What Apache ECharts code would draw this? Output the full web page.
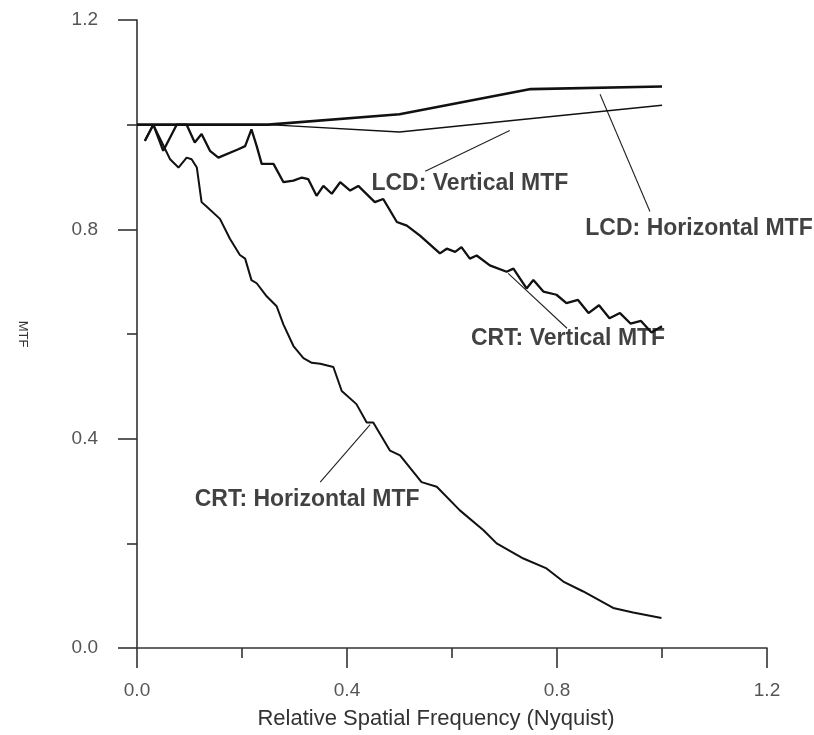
<!DOCTYPE html>
<html>
<head>
<meta charset="utf-8">
<script src="https://cdn.jsdelivr.net/npm/echarts@6/dist/echarts.min.js"></script>
<style>html,body{margin:0;padding:0;background:#fff}#c{width:814px;height:735px}</style>
</head>
<body>
<div id="c"></div>
<script>
// ---- data (x: relative spatial frequency, y: MTF) ----
var lcdHorizontal = [[0,1.0],[0.25,1.0],[0.5,1.02],[0.75,1.068],[1.0,1.073]];
var lcdVertical = [[0,1.0],[0.25,1.0],[0.5,0.986],[1.0,1.037]];
var crtVertical = [
  [0.015,0.969],[0.031,1.0],[0.050,0.950],[0.0756,1.0],[0.0946,1.0],[0.110,0.966],[0.123,0.982],
  [0.139,0.950],[0.155,0.937],[0.193,0.953],[0.206,0.959],[0.218,0.991],[0.228,0.959],[0.2375,0.925],
  [0.260,0.925],[0.279,0.890],[0.298,0.893],[0.314,0.899],[0.326,0.896],[0.342,0.864],[0.355,0.883],
  [0.371,0.868],[0.387,0.890],[0.406,0.874],[0.4215,0.883],[0.453,0.852],[0.469,0.858],[0.495,0.814],
  [0.514,0.807],[0.539,0.788],[0.577,0.754],[0.590,0.763],[0.606,0.757],[0.618,0.766],[0.634,0.744],
  [0.647,0.750],[0.672,0.731],[0.704,0.719],[0.717,0.725],[0.742,0.687],[0.755,0.703],[0.774,0.681],
  [0.799,0.675],[0.818,0.659],[0.84,0.665],[0.86,0.640],[0.88,0.655],[0.90,0.630],[0.92,0.640],
  [0.94,0.620],[0.96,0.625],[0.98,0.603],[1.0,0.615]
];
var crtHorizontal = [
  [0.015,0.969],[0.031,1.0],[0.063,0.934],[0.079,0.918],[0.0946,0.937],[0.104,0.934],[0.114,0.918],
  [0.123,0.852],[0.133,0.843],[0.158,0.820],[0.177,0.782],[0.196,0.751],[0.206,0.744],[0.218,0.703],
  [0.228,0.697],[0.247,0.672],[0.266,0.653],[0.279,0.618],[0.298,0.577],[0.317,0.554],[0.333,0.545],
  [0.349,0.543],[0.374,0.537],[0.390,0.491],[0.418,0.466],[0.4375,0.431],[0.450,0.431],[0.463,0.409],
  [0.482,0.377],[0.501,0.368],[0.542,0.317],[0.571,0.308],[0.615,0.263],[0.660,0.225],[0.685,0.200],
  [0.736,0.171],[0.780,0.152],[0.812,0.127],[0.850,0.108],[0.907,0.0765],[0.945,0.068],[0.999,0.0575]
];
// annotation labels and leader lines (data units)
var labelNames = ['LCD: Vertical MTF','LCD: Horizontal MTF','CRT: Vertical MTF','CRT: Horizontal MTF'];
var labelPos = [[0.634,0.887],[1.0705,0.801],[0.821,0.592],[0.324,0.283]];
var leaders = [
  [[0.549,0.911],[0.710,0.989]],
  [[0.882,1.058],[0.977,0.834]],
  [[0.707,0.716],[0.819,0.611]],
  [[0.349,0.317],[0.444,0.427]]
];
var xTicks = [0, 1.2, 0.4];
var yTicks = [0, 1.2, 0.4];

var FONT = 'Liberation Sans, Arial, sans-serif';
var chart = echarts.init(document.getElementById('c'), null, {renderer:'canvas'});
var series = [];
function lineSeries(d, w){
  return {type:'line', data:d, symbol:'none', smooth:false, silent:true,
    lineStyle:{color:'#111', width:w}, z:3};
}
series.push(lineSeries(lcdHorizontal, 2.6));
series.push(lineSeries(lcdVertical, 1.4));
series.push(lineSeries(crtVertical, 2.3));
series.push(lineSeries(crtHorizontal, 2.0));
leaders.forEach(function(l){
  series.push({type:'line', data:l, symbol:'none', silent:true, lineStyle:{color:'#222', width:1.1}, z:2});
});
series.push({
  type:'scatter', symbolSize:0, silent:true, z:5,
  data: labelPos.map(function(p,i){return {name:labelNames[i], value:p};}),
  label:{show:true, position:'inside', formatter:'{b}', color:'#111',
    fontFamily:FONT, fontWeight:'bold', fontSize:23}
});

chart.setOption({
  animation:false,
  backgroundColor:'#fff',
  grid:{left:137, right:47, top:20, bottom:83, containLabel:false},
  xAxis:{
    type:'value', min:xTicks[0], max:xTicks[1], interval:xTicks[2],
    name:'Relative Spatial Frequency (Nyquist)', nameLocation:'middle', nameGap:60,
    nameTextStyle:{fontFamily:FONT, fontSize:22, color:'#333', padding:[0,32,0,0]},
    axisLine:{show:true, onZero:false, lineStyle:{color:'#333', width:1.6}},
    axisTick:{show:true, inside:false, length:20, lineStyle:{color:'#333', width:1.6}},
    minorTick:{show:true, splitNumber:2, length:10, lineStyle:{color:'#333', width:1.6}},
    splitLine:{show:false},
    axisLabel:{margin:33, color:'#555', fontFamily:FONT, fontSize:19,
      formatter:function(v){return v.toFixed(1);}}
  },
  yAxis:{
    type:'value', min:yTicks[0], max:yTicks[1], interval:yTicks[2],
    name:'MTF', nameLocation:'middle', nameGap:108, nameRotate:-90,
    nameTextStyle:{fontFamily:FONT, fontSize:13, color:'#333'},
    axisLine:{show:true, onZero:false, lineStyle:{color:'#333', width:1.6}},
    axisTick:{show:true, inside:false, length:19, lineStyle:{color:'#333', width:1.6}},
    minorTick:{show:true, splitNumber:2, length:10, lineStyle:{color:'#333', width:1.6}},
    splitLine:{show:false},
    axisLabel:{margin:39, color:'#555', fontFamily:FONT, fontSize:19,
      formatter:function(v){return v.toFixed(1);}}
  },
  series:series
});
</script>
</body>
</html>
